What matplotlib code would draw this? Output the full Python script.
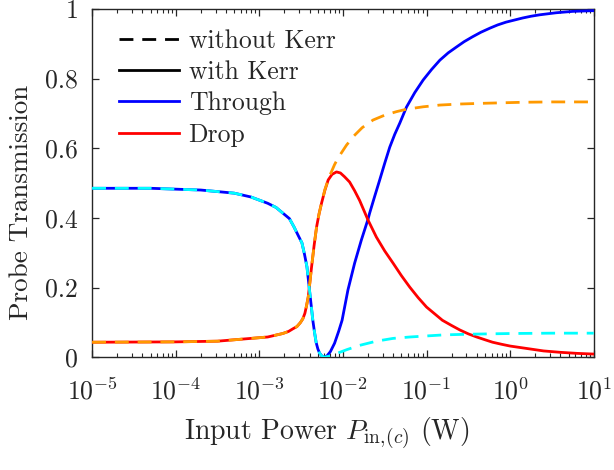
import numpy as np
import matplotlib
matplotlib.use("Agg")
import matplotlib.pyplot as plt
from matplotlib.ticker import FixedLocator, FixedFormatter, NullFormatter
from matplotlib.lines import Line2D

# ---- data (log10 of input power in W, transmission) ----
thr_kerr_logP = [-5.0, -4.3, -3.7, -3.3, -3.1, -2.9, -2.8, -2.72, -2.64, -2.585, -2.54, -2.49,
                 -2.46, -2.43, -2.40, -2.38, -2.36, -2.34, -2.32, -2.30, -2.28, -2.25, -2.22,
                 -2.19, -2.15, -2.10, -2.05, -2.01, -1.94, -1.86, -1.78, -1.70, -1.68, -1.62,
                 -1.56, -1.50, -1.44, -1.38, -1.32, -1.24, -1.14, -1.04, -0.94, -0.84, -0.74,
                 -0.64, -0.55, -0.45, -0.35, -0.24, -0.15, -0.05, 0.05, 0.15, 0.25, 0.35,
                 0.45, 0.55, 0.65, 0.75, 0.87, 1.0]
thr_kerr_T = [0.485, 0.485, 0.480, 0.471, 0.460, 0.442, 0.430, 0.414, 0.398, 0.374, 0.352, 0.328,
              0.296, 0.259, 0.193, 0.150, 0.106, 0.072, 0.042, 0.024, 0.012, 0.003, 0.000,
              0.004, 0.016, 0.040, 0.075, 0.106, 0.193, 0.270, 0.336, 0.396, 0.414, 0.462,
              0.509, 0.557, 0.603, 0.640, 0.672, 0.718, 0.760, 0.796, 0.826, 0.853, 0.874,
              0.891, 0.906, 0.920, 0.933, 0.945, 0.954, 0.962, 0.968, 0.974, 0.979, 0.983,
              0.986, 0.989, 0.991, 0.993, 0.994, 0.995]

drop_kerr_logP = [-5.0, -4.0, -3.5, -3.1, -2.9, -2.72, -2.65, -2.595, -2.55, -2.51, -2.48,
                  -2.455, -2.435, -2.415, -2.395, -2.375, -2.345, -2.315, -2.285, -2.256,
                  -2.215, -2.176, -2.13, -2.077, -2.03, -1.98, -1.92, -1.86, -1.80, -1.70,
                  -1.60, -1.50, -1.40, -1.30, -1.20, -1.10, -1.00, -0.90, -0.81, -0.70,
                  -0.60, -0.50, -0.40, -0.30, -0.21, -0.10, 0.0, 0.2, 0.4, 0.6, 0.8, 1.0]
drop_kerr_T = [0.043, 0.044, 0.046, 0.054, 0.058, 0.068, 0.074, 0.082, 0.088, 0.099, 0.110,
               0.126, 0.148, 0.173, 0.215, 0.259, 0.320, 0.374, 0.412, 0.442,
               0.480, 0.509, 0.525, 0.532, 0.529, 0.518, 0.503, 0.478, 0.450, 0.394,
               0.345, 0.305, 0.270, 0.234, 0.201, 0.171, 0.144, 0.124, 0.106, 0.091,
               0.078, 0.067, 0.058, 0.050, 0.043, 0.037, 0.032, 0.025, 0.018, 0.014, 0.011, 0.009]

thr_nokerr_logP = [-5.0, -4.3, -3.7, -3.3, -3.1, -2.9, -2.8, -2.72, -2.64, -2.585, -2.54, -2.49,
                   -2.46, -2.43, -2.40, -2.38, -2.36, -2.34, -2.32, -2.30, -2.28, -2.25, -2.22,
                   -2.15, -2.06, -1.95, -1.80, -1.60, -1.40, -1.20, -1.00, -0.80, -0.50, 0.0,
                   0.5, 1.0]
thr_nokerr_T = [0.485, 0.485, 0.480, 0.471, 0.460, 0.442, 0.430, 0.414, 0.398, 0.374, 0.352, 0.328,
                0.296, 0.259, 0.193, 0.150, 0.106, 0.072, 0.042, 0.024, 0.012, 0.003, 0.000,
                0.004, 0.012, 0.022, 0.034, 0.046, 0.054, 0.058, 0.061, 0.064, 0.066, 0.068,
                0.069, 0.069]

drop_nokerr_logP = [-5.0, -4.0, -3.5, -3.1, -2.9, -2.72, -2.65, -2.595, -2.55, -2.51, -2.48,
                    -2.455, -2.435, -2.415, -2.395, -2.375, -2.345, -2.315, -2.285, -2.256,
                    -2.215, -2.16, -2.10, -2.06, -2.02, -1.957, -1.87, -1.77, -1.64, -1.50,
                    -1.36, -1.24, -1.04, -0.84, -0.60, -0.33, 0.15, 0.5, 1.0]
drop_nokerr_T = [0.043, 0.044, 0.046, 0.054, 0.058, 0.068, 0.074, 0.082, 0.088, 0.099, 0.110,
                 0.126, 0.148, 0.173, 0.215, 0.259, 0.320, 0.374, 0.412, 0.442,
                 0.482, 0.520, 0.553, 0.571, 0.586, 0.609, 0.635, 0.659, 0.681, 0.695,
                 0.705, 0.712, 0.719, 0.724, 0.727, 0.729, 0.732, 0.733, 0.733]

x_tick_exps = [-5, -4, -3, -2, -1, 0, 1]
x_tick_labels = [r"$10^{-5}$", r"$10^{-4}$", r"$10^{-3}$", r"$10^{-2}$", r"$10^{-1}$",
                 r"$10^{0}$", r"$10^{1}$"]
y_ticks = [0, 0.2, 0.4, 0.6, 0.8, 1]
y_tick_labels = ["0", "0.2", "0.4", "0.6", "0.8", "1"]
legend_labels = ["without Kerr", "with Kerr", "Through", "Drop"]

# ---- style ----
plt.rcParams["font.family"] = "serif"
plt.rcParams["font.serif"] = ["cmr10", "DejaVu Serif"]
plt.rcParams["mathtext.fontset"] = "cm"
plt.rcParams["axes.formatter.use_mathtext"] = True
plt.rcParams["axes.unicode_minus"] = False

FS = 18.5
dark = "#262626"
blue = "#0000FF"
red = "#FF0000"
cyan = "#00FFFF"
orange = "#FF9900"
LW = 2.0
DASH = (0, (5.0, 3.2))

fig = plt.figure(figsize=(6.14, 4.70), dpi=100)
ax = fig.add_axes([0.150, 0.240, 0.817, 0.741])

P = lambda a: np.power(10.0, np.asarray(a, dtype=float))

ax.plot(P(thr_kerr_logP), thr_kerr_T, color=blue, lw=LW, zorder=3, solid_joinstyle="round")
ax.plot(P(drop_kerr_logP), drop_kerr_T, color=red, lw=LW, zorder=3, solid_joinstyle="round")
ax.plot(P(thr_nokerr_logP), thr_nokerr_T, color=cyan, lw=LW, ls=DASH, zorder=4)
ax.plot(P(drop_nokerr_logP), drop_nokerr_T, color=orange, lw=LW, ls=DASH, zorder=4)

ax.set_xscale("log")
ax.set_xlim(1e-5, 1e1)
ax.set_ylim(0, 1)
major_x = P(x_tick_exps)
minor_x = [m * b for b in major_x[:-1] for m in range(2, 10)]
ax.xaxis.set_major_locator(FixedLocator(major_x))
ax.xaxis.set_major_formatter(FixedFormatter(x_tick_labels))
ax.xaxis.set_minor_locator(FixedLocator(minor_x))
ax.xaxis.set_minor_formatter(NullFormatter())
ax.yaxis.set_major_locator(FixedLocator(y_ticks))
ax.yaxis.set_major_formatter(FixedFormatter(y_tick_labels))

for s in ax.spines.values():
    s.set_color(dark)
    s.set_linewidth(1.0)
ax.tick_params(which="both", direction="in", top=True, right=True, colors=dark,
               labelsize=FS, labelcolor=dark)
ax.tick_params(which="major", length=5, width=0.9)
ax.tick_params(which="minor", length=3, width=0.8)
ax.tick_params(axis="y", pad=10)
ax.tick_params(axis="x", pad=15)

ax.set_xlabel(r"Input Power $P_{\mathrm{in},\!(c)}$ (W)", fontsize=20, color=dark, labelpad=8)
ax.xaxis.set_label_coords(0.468, -0.165)
ax.xaxis.label.set_verticalalignment("top")
ax.set_ylabel("Probe Transmission", fontsize=19.5, color=dark)
ax.yaxis.set_label_coords(-0.118, 0.445)

handles = [Line2D([], [], color="black", lw=LW, ls=DASH),
           Line2D([], [], color="black", lw=LW),
           Line2D([], [], color=blue, lw=LW),
           Line2D([], [], color=red, lw=LW)]
leg = ax.legend(handles, legend_labels, loc="upper left", bbox_to_anchor=(0.053, 0.943),
                frameon=False, fontsize=FS, handlelength=2.33, handletextpad=0.39,
                labelspacing=0.3, borderpad=0, borderaxespad=0)
for t in leg.get_texts():
    t.set_color(dark)

fig.savefig("out.png", dpi=100)
